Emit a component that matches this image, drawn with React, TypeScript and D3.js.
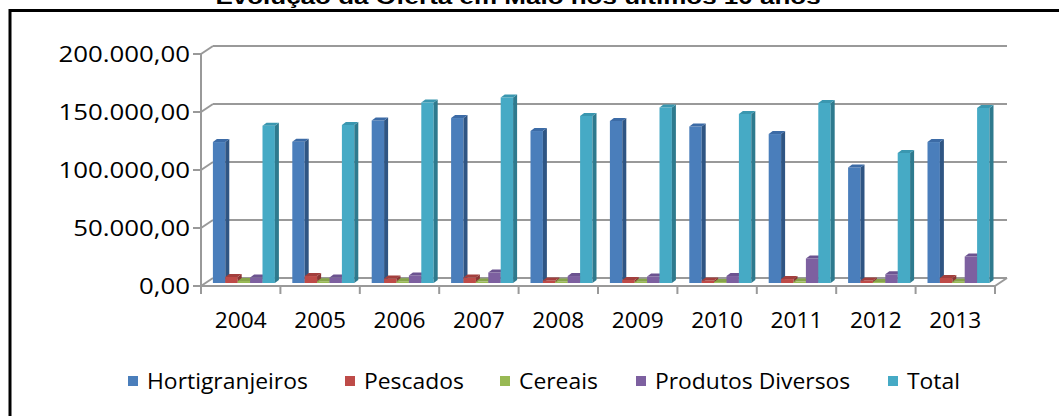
import React from "react";
import * as d3 from "d3";

const years = ["2004", "2005", "2006", "2007", "2008", "2009", "2010", "2011", "2012", "2013"];
const seriesNames = ["Hortigranjeiros", "Pescados", "Cereais", "Produtos Diversos", "Total"];
const hortigranjeiros = [121500, 121800, 140100, 142200, 131000, 139700, 134900, 128400, 99600, 121500];
const pescados = [5200, 6000, 3900, 4700, 2200, 2600, 2200, 3400, 2200, 4300];
const cereais = [1700, 1500, 1500, 1200, 1300, 1000, 800, 1200, 800, 1000];
const produtosDiversos = [4700, 4700, 6500, 9000, 6000, 5600, 6000, 21100, 7500, 22800];
const total = [135600, 136200, 155600, 159900, 144000, 151300, 145700, 155200, 112100, 150900];
const yTicks = [0, 50000, 100000, 150000, 200000];
const title = "Evolução da Oferta em Maio nos últimos 10 anos";

const seriesValues = [hortigranjeiros, pescados, cereais, produtosDiversos, total];
const palette = [
  { front: "#4A7EBB", side: "#2F5583", top: "#3C6BA6" },
  { front: "#BE4B48", side: "#8B3634", top: "#A33F3D" },
  { front: "#98B954", side: "#6F8A3B", top: "#86A449" },
  { front: "#7D60A0", side: "#5A4575", top: "#6C5390" },
  { front: "#46AAC5", side: "#2E7A8E", top: "#3A97B0" },
];

const W = 1059;
const H = 416;
const FONT = "'Open Sans', 'Noto Sans', sans-serif";
const TITLE_FONT = "'Liberation Sans', Arial, sans-serif";

function fmt(v: number) {
  const s = d3.format(",.2f")(v);
  return s.replace(/,/g, "#").replace(/\./g, ",").replace(/#/g, ".");
}

function STxt(props: { x: number; y: number; sx: number; anchor: string; size: number; weight?: string; family?: string; children: any }) {
  return (
    <text
      transform={`translate(${props.x},${props.y}) scale(${props.sx},1)`}
      textAnchor={props.anchor as any}
      fontFamily={props.family || FONT}
      fontSize={props.size}
      fontWeight={props.weight || "normal"}
      fill="#000"
    >
      {props.children}
    </text>
  );
}

export default function App() {
  const xFront0 = 201;
  const xFront1 = 995;
  const depthX = 12;
  const depthY = -8;
  const y = d3.scaleLinear().domain([0, 200000]).range([286, 54]);
  const xBand = d3.scaleBand<string>().domain(years).range([xFront0, xFront1]);
  const clusterW = 62;
  const inner = d3.scaleBand<string>().domain(seriesNames).range([0, clusterW]);
  const bw = inner.bandwidth();
  const barShiftX = 3.2;
  const barShiftY = -3;
  const bdx = 4;
  const bdy = -3;
  const gridColor = "#999999";

  const bars: any[] = [];
  years.forEach((yr, ci) => {
    seriesNames.forEach((s, si) => {
      const v = seriesValues[si][ci];
      const x = (xBand(yr) as number) + (xBand.bandwidth() - clusterW) / 2 + barShiftX + (inner(s) as number);
      const yb = y(0) + barShiftY;
      const yt = y(v) + barShiftY;
      const c = palette[si];
      bars.push(
        <g key={`${yr}-${s}`}>
          <rect x={x} y={yt} width={bw} height={yb - yt} fill={c.front} />
          <polygon
            points={`${x + bw},${yt} ${x + bw + bdx},${yt + bdy} ${x + bw + bdx},${yb + bdy} ${x + bw},${yb}`}
            fill={c.side}
          />
          <polygon
            points={`${x},${yt} ${x + bdx},${yt + bdy} ${x + bw + bdx},${yt + bdy} ${x + bw},${yt}`}
            fill={c.top}
          />
        </g>
      );
    });
  });

  const legendX = [128, 345, 500, 636, 888];

  return (
    <svg
      width={W}
      height={H}
      style={{ position: "absolute", left: 0, top: 0, background: "#fff" }}
    >
      <rect x={0} y={0} width={W} height={H} fill="#fff" />
      <STxt x={518} y={4} sx={1.3} anchor="middle" size={20} weight="bold" family={TITLE_FONT}>
        {title}
      </STxt>
      <rect x={10} y={10.5} width={1200} height={600} fill="none" stroke="#000" strokeWidth={3} />

      {yTicks.map((t) => (
        <g key={t}>
          <line x1={xFront0 + depthX} x2={xFront1 + depthX} y1={y(t) + depthY} y2={y(t) + depthY} stroke={gridColor} strokeWidth={2} />
          <line x1={xFront0} x2={xFront0 + depthX} y1={y(t)} y2={y(t) + depthY} stroke={gridColor} strokeWidth={2} />
          <line x1={xFront0 - 8} x2={xFront0} y1={y(t)} y2={y(t)} stroke={gridColor} strokeWidth={2} />
          <STxt x={190} y={y(t) + 7.5} sx={1.23} anchor="end" size={21}>
            {fmt(t)}
          </STxt>
        </g>
      ))}
      <line x1={xFront0} x2={xFront0} y1={y(200000)} y2={y(0)} stroke={gridColor} strokeWidth={2} />
      <line x1={xFront0} x2={xFront1} y1={y(0)} y2={y(0)} stroke={gridColor} strokeWidth={2} />
      <line x1={xFront1} x2={xFront1 + depthX} y1={y(0)} y2={y(0) + depthY} stroke={gridColor} strokeWidth={2} />
      {years.concat(["end"]).map((yr, i) => {
        const xx = i < years.length ? (xBand(yr) as number) : xFront1;
        return <line key={yr} x1={xx} x2={xx} y1={y(0)} y2={y(0) + 8} stroke={gridColor} strokeWidth={2} />;
      })}

      {bars}

      {years.map((yr) => (
        <STxt key={yr} x={(xBand(yr) as number) + xBand.bandwidth() / 2} y={327.5} sx={1.08} anchor="middle" size={21}>
          {yr}
        </STxt>
      ))}

      {seriesNames.map((s, i) => (
        <g key={s}>
          <rect x={legendX[i]} y={376} width={10} height={10} fill={palette[i].front} />
          <STxt x={legendX[i] + 19} y={388.5} sx={1.09} anchor="start" size={21}>
            {s}
          </STxt>
        </g>
      ))}
    </svg>
  );
}
